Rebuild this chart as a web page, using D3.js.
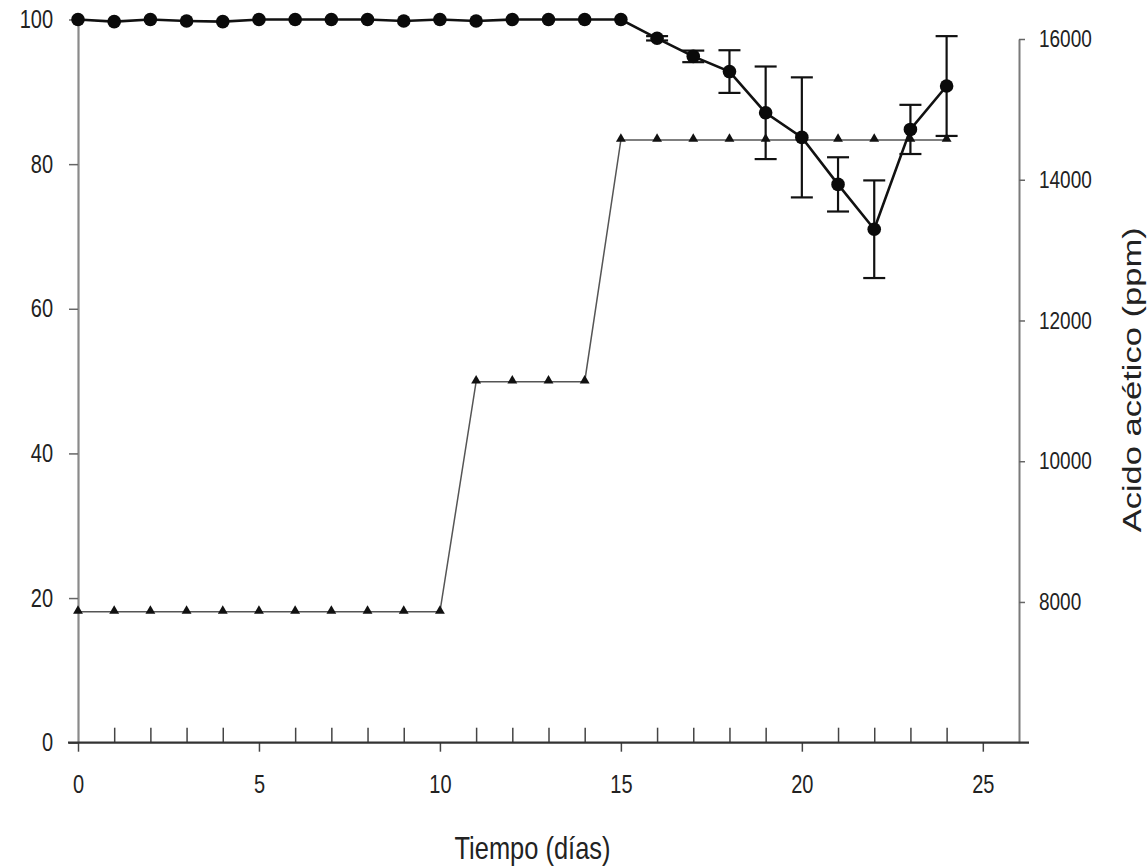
<!DOCTYPE html>
<html>
<head>
<meta charset="utf-8">
<script src="https://cdn.jsdelivr.net/npm/d3@7"></script>
<style>
  html, body { margin: 0; padding: 0; background: #fff; }
  text { font-family: "Liberation Sans", Arial, sans-serif; fill: #222; }
</style>
</head>
<body>
<svg id="chart" width="1147" height="867"></svg>
<script>
// ---- data ----
const days = [0,1,2,3,4,5,6,7,8,9,10,11,12,13,14,15,16,17,18,19,20,21,22,23,24];
const viability = [100,99.7,100,99.8,99.7,100,100,100,100,99.8,100,99.8,100,100,100,100,97.4,94.9,92.8,87.1,83.7,77.2,71.0,84.8,90.8];
const viabilityErr = [0,0,0,0,0,0,0,0,0,0,0,0,0,0,0,0,0.3,0.8,2.95,6.4,8.3,3.75,6.75,3.4,6.9];
const acetic = [7860,7860,7860,7860,7860,7860,7860,7860,7860,7860,7860,11130,11130,11130,11130,14565,14565,14565,14565,14565,14565,14565,14565,14565,14565];
const xTicks = [0,5,10,15,20,25];
const leftTicks = [0,20,40,60,80,100];
const rightTicks = [8000,10000,12000,14000,16000];
const xTitle = "Tiempo (días)";
const yRightTitle = "Acido acético (ppm)";

// ---- scales ----
const svg = d3.select("#chart");
const x = d3.scaleLinear().domain([0, 26]).range([78, 1019]);
const yL = d3.scaleLinear().domain([0, 100]).range([742.7, 19.5]);
const yR = d3.scaleLinear().domain([6000, 16000]).range([742.7, 39]);

const FONT = '"Liberation Sans", Arial, sans-serif';
const vs = 1.25; // vertical stretch of text, as in the reference

function styleText(sel, size, fill) {
  sel.attr("font-size", size).attr("fill", fill).attr("font-family", FONT)
    .attr("y", function () { return (+this.getAttribute("y") || 0) / vs; })
    .attr("transform", `scale(1,${vs})`);
}

// ---- left axis ----
const gL = svg.append("g").attr("transform", `translate(${x(0)},0)`)
  .call(d3.axisLeft(yL).tickValues(leftTicks).tickSize(9).tickSizeOuter(0).tickPadding(16));
gL.select(".domain").attr("stroke", "#8a8a8a").attr("stroke-width", 2.2);
gL.selectAll(".tick line").attr("stroke", "#666").attr("stroke-width", 1.5);
styleText(gL.selectAll(".tick text"), 20, "#222");

// ---- right axis ----
const gR = svg.append("g").attr("transform", `translate(${x(26)},0)`)
  .call(d3.axisRight(yR).tickValues(rightTicks).tickSize(6).tickSizeOuter(0).tickPadding(14)
    .tickFormat(d3.format("d")));
gR.select(".domain").attr("stroke", "#7a7a7a").attr("stroke-width", 2);
gR.selectAll(".tick line").attr("stroke", "#666").attr("stroke-width", 1.5);
styleText(gR.selectAll(".tick text"), 19, "#333");

// ---- bottom axis ----
const y0 = yL(0);
const gX = svg.append("g").attr("transform", `translate(0,${y0})`)
  .call(d3.axisBottom(x).tickValues(xTicks).tickSize(9).tickSizeOuter(0).tickPadding(24));
gX.select(".domain").remove();
gX.selectAll(".tick line").attr("stroke", "#444").attr("stroke-width", 1.5);
styleText(gX.selectAll(".tick text"), 20, "#222");
// minor ticks pointing inward
const minorDays = days.filter(d => d % 5 !== 0);
const gXm = svg.append("g").attr("transform", `translate(0,${y0})`)
  .call(d3.axisBottom(x).tickValues(minorDays).tickSize(-15).tickSizeOuter(0).tickFormat(""));
gXm.select(".domain").remove();
gXm.selectAll(".tick line").attr("stroke", "#444").attr("stroke-width", 1.5);
// x axis line
svg.append("line")
  .attr("x1", x.range()[0] - 10).attr("x2", x.range()[1] + 10)
  .attr("y1", y0).attr("y2", y0)
  .attr("stroke", "#333").attr("stroke-width", 2.2);

// ---- acetic acid series (right axis) ----
const aData = days.map((d, i) => ({ d, v: acetic[i] }));
svg.append("path").datum(aData)
  .attr("fill", "none").attr("stroke", "#555").attr("stroke-width", 1.5)
  .attr("d", d3.line().x(p => x(p.d)).y(p => yR(p.v)));
svg.append("g").selectAll("path").data(aData).join("path")
  .attr("transform", p => `translate(${x(p.d)},${yR(p.v) - 1})`)
  .attr("d", d3.symbol(d3.symbolTriangle, 42))
  .attr("fill", "#111");

// ---- viability series (left axis) ----
const vData = days.map((d, i) => ({ d, v: viability[i], e: viabilityErr[i] }));
const eData = vData.filter(p => p.e > 0);
const capW = 11;
const eb = svg.append("g").attr("stroke", "#111").attr("stroke-width", 2.2);
eb.selectAll("line.v").data(eData).join("line").attr("class", "v")
  .attr("x1", p => x(p.d)).attr("x2", p => x(p.d))
  .attr("y1", p => yL(p.v + p.e)).attr("y2", p => yL(p.v - p.e));
eb.selectAll("line.t").data(eData).join("line").attr("class", "t")
  .attr("x1", p => x(p.d) - capW).attr("x2", p => x(p.d) + capW)
  .attr("y1", p => yL(p.v + p.e)).attr("y2", p => yL(p.v + p.e));
eb.selectAll("line.b").data(eData).join("line").attr("class", "b")
  .attr("x1", p => x(p.d) - capW).attr("x2", p => x(p.d) + capW)
  .attr("y1", p => yL(p.v - p.e)).attr("y2", p => yL(p.v - p.e));

svg.append("path").datum(vData)
  .attr("fill", "none").attr("stroke", "#111").attr("stroke-width", 2.6)
  .attr("d", d3.line().x(p => x(p.d)).y(p => yL(p.v)));
svg.append("g").selectAll("circle").data(vData).join("circle")
  .attr("cx", p => x(p.d)).attr("cy", p => yL(p.v)).attr("r", 6.8)
  .attr("fill", "#0a0a0a");

// ---- titles ----
svg.append("text")
  .attr("transform", `translate(${(x(0) + x(26)) / 2 - 16},859) scale(1,1.3)`)
  .attr("text-anchor", "middle").attr("font-size", 24).attr("fill", "#222")
  .attr("textLength", 156).attr("lengthAdjust", "spacingAndGlyphs")
  .text(xTitle);
svg.append("text")
  .attr("transform", `translate(1141,${(yR(6000) + yR(16000)) / 2 - 11}) rotate(-90)`)
  .attr("text-anchor", "middle").attr("font-size", 26).attr("fill", "#222")
  .attr("textLength", 305).attr("lengthAdjust", "spacingAndGlyphs")
  .text(yRightTitle);
</script>
</body>
</html>
